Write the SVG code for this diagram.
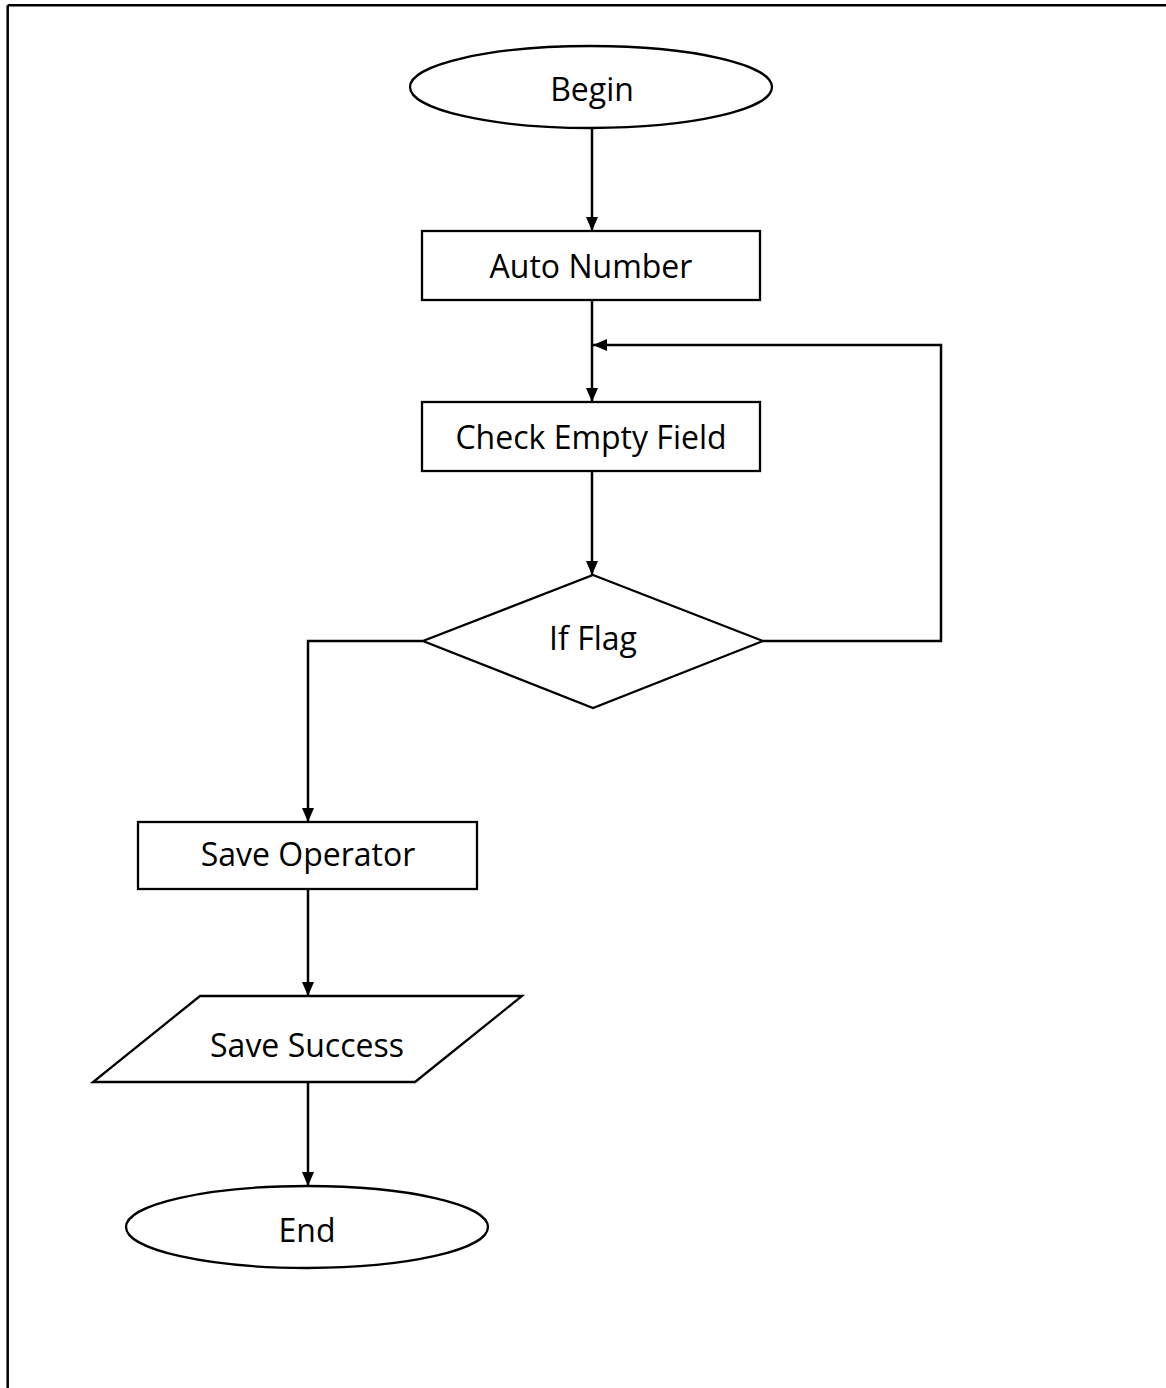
<svg xmlns="http://www.w3.org/2000/svg" width="1166" height="1388" viewBox="0 0 1166 1388">
<style>
.shape{fill:#fff;stroke:#000;stroke-width:2.3}
.lbl{font-family:"Open Sans","Liberation Sans",sans-serif;font-size:32px;fill:#000;text-anchor:middle}
.conn{fill:none;stroke:#000;stroke-width:2.5}
</style>
<defs>
<marker id="arr" viewBox="0 0 14 12" refX="14" refY="6" markerWidth="14" markerHeight="12" markerUnits="userSpaceOnUse" orient="auto">
<path d="M0,0 L14,6 L0,12 Z" fill="#000"/>
</marker>
</defs>
<rect width="1166" height="1388" fill="#fff"/>
<g id="page-border">
<path d="M7.7,5.2 H1166 M7.7,5.2 V1388" fill="none" stroke="#000" stroke-width="2.5"/>
</g>
<g id="connectors">
<line class="conn" x1="592" y1="128" x2="592" y2="231" marker-end="url(#arr)"/>
<line class="conn" x1="592" y1="300" x2="592" y2="402" marker-end="url(#arr)"/>
<polyline class="conn" points="763,641 941,641 941,345 593,345" marker-end="url(#arr)"/>
<line class="conn" x1="592" y1="471" x2="592" y2="575" marker-end="url(#arr)"/>
<polyline class="conn" points="423,641 308,641 308,822" marker-end="url(#arr)"/>
<line class="conn" x1="308" y1="889" x2="308" y2="996" marker-end="url(#arr)"/>
<line class="conn" x1="308" y1="1082" x2="308" y2="1186" marker-end="url(#arr)"/>
</g>
<g id="begin">
<ellipse class="shape" cx="591" cy="87" rx="181" ry="41"/>
<text class="lbl" x="592" y="101">Begin</text>
</g>
<g id="auto-number">
<rect class="shape" x="422" y="231" width="338" height="69"/>
<text class="lbl" x="591" y="278">Auto Number</text>
</g>
<g id="check-empty-field">
<rect class="shape" x="422" y="402" width="338" height="69"/>
<text class="lbl" x="591" y="449">Check Empty Field</text>
</g>
<g id="if-flag">
<polygon class="shape" points="593,575 763,641 593,708 423,641"/>
<text class="lbl" x="593" y="650">If Flag</text>
</g>
<g id="save-operator">
<rect class="shape" x="138" y="822" width="339" height="67"/>
<text class="lbl" x="308" y="866">Save Operator</text>
</g>
<g id="save-success">
<polygon class="shape" points="200,996 522,996 415,1082 93,1082"/>
<text class="lbl" x="307" y="1057">Save Success</text>
</g>
<g id="end">
<ellipse class="shape" cx="307" cy="1227" rx="181" ry="41"/>
<text class="lbl" x="307" y="1242">End</text>
</g>
</svg>
